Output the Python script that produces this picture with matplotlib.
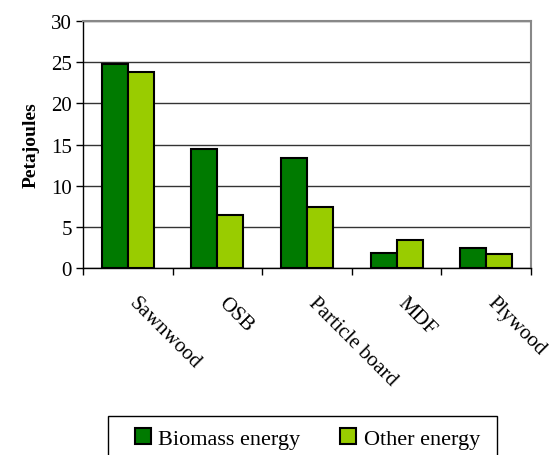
import matplotlib
matplotlib.use("Agg")
import matplotlib.pyplot as plt
from matplotlib.patches import Rectangle
import numpy as np

# Energy use by wood product (Petajoules)
products = ["Sawnwood", "OSB", "Particle board", "MDF", "Plywood"]
biomass_energy = [24.8, 14.5, 13.4, 1.8, 2.4]
other_energy = [23.8, 6.4, 7.4, 3.4, 1.7]

plt.rcParams["font.family"] = ["Liberation Serif", "DejaVu Serif"]

fig = plt.figure(figsize=(5.51, 4.56), dpi=100)
ax = fig.add_axes([0.1506, 0.410, 0.813, 0.5417])

x = np.arange(len(products)) + 0.5
w = 0.29
ax.bar(x - w / 2, biomass_energy, w, color="#007A00", edgecolor="black",
       linewidth=1.5, label="Biomass energy", zorder=3)
ax.bar(x + w / 2, other_energy, w, color="#99CC00", edgecolor="black",
       linewidth=1.5, label="Other energy", zorder=3)

ax.set_xlim(0, len(products))
ax.set_ylim(0, 30)
ax.set_yticks(range(0, 31, 5))
ax.tick_params(axis="y", labelsize=15, length=5, direction="out", width=1,
               pad=3)
ax.yaxis.grid(True, color="#333333", linewidth=1, zorder=0)

ax.set_xticks(range(len(products) + 1))
ax.set_xticklabels([])
ax.tick_params(axis="x", length=5, direction="out", width=1)
for xi, name in zip(x, products):
    ax.text(xi + 0.12, -3.0, name, rotation=-45, rotation_mode="anchor",
            ha="left", va="top", fontsize=15)

for side in ["top", "right"]:
    ax.spines[side].set_color("#888888")
    ax.spines[side].set_linewidth(1.5)
for side in ["left", "bottom"]:
    ax.spines[side].set_color("black")
    ax.spines[side].set_linewidth(1)

ax.set_ylabel("Petajoules", fontsize=14, fontweight="bold", labelpad=8)

# legend box (cut off at the bottom edge, as in the original)
fig.patches.append(Rectangle((108 / 551, -0.05), (497 - 108) / 551,
                             (456 - 417) / 456 + 0.05,
                             transform=fig.transFigure, facecolor="white",
                             edgecolor="black", linewidth=1))
leg = fig.legend(loc="upper left", bbox_to_anchor=(135 / 551, 1 - 429 / 456),
                 ncol=2, fontsize=16, frameon=False,
                 handlelength=0.7, handleheight=0.7,
                 handletextpad=0.35, columnspacing=1.8, borderpad=0,
                 borderaxespad=0)

fig.savefig("out.png", dpi=100)
